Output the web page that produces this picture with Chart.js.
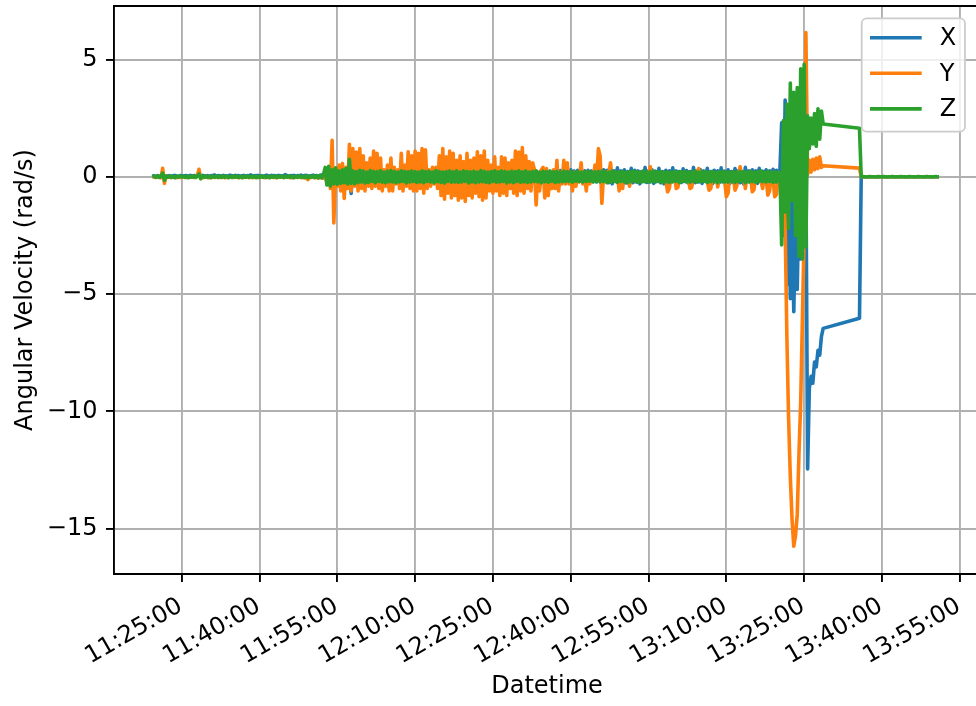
<!DOCTYPE html>
<html>
<head>
<meta charset="utf-8">
<title>Angular Velocity</title>
<script src="https://cdn.jsdelivr.net/npm/chart.js@4.4.1/dist/chart.umd.min.js"></script>
<style>
  html, body { margin: 0; padding: 0; background: #ffffff; overflow: hidden; }
  #wrap { position: relative; width: 980px; height: 706px; }
</style>
</head>
<body>
<div id="wrap"><canvas id="chart"></canvas></div>
<script>
// Gyroscope log: one sample every SAMPLE_SECONDS starting at START_TIME.
// null marks samples the logger did not record (the line is bridged straight across).
const START_TIME = '11:19:20';
const SAMPLE_SECONDS = 20;
const AXIS_MIN_TIME = '11:11:57';
const AXIS_MAX_TIME = '13:58:54';
const Y_MIN = -16.93;
const Y_MAX = 7.28;

const xTickLabels = ['11:25:00', '11:40:00', '11:55:00', '12:10:00', '12:25:00', '12:40:00',
                     '12:55:00', '13:10:00', '13:25:00', '13:40:00', '13:55:00'];
const yTickValues = [-15, -10, -5, 0, 5];

const seriesNames = ['X', 'Y', 'Z'];
const seriesColors = ['#1f77b4', '#ff7f0e', '#2ca02c'];

// angular velocity about X (rad/s)
const angX = [
  .02,.04,.01,.05,.03,.02,.06,.01,.04,.03,.05,.02,.04,.06,.03,.02,.05,.04,.03,.05,
  .04,.02,.06,.03,.05,.04,.02,.05,.03,.06,.04,.03,.05,.02,.04,.06,.08,.03,.05,.04,
  .03,.06,.04,.02,.05,.07,.04,.03,.06,.04,.05,.02,.04,.06,.03,.05,.04,.08,.03,.05,
  .04,.06,.03,.05,.02,.04,.07,.05,.03,.06,.04,.05,.03,.06,.04,.02,.05,.09,.04,.03,
  .05,.04,.06,.03,.05,.04,.07,.03,.05,.06,.04,.03,.05,.07,.04,.05,.03,.06,.08,.1,
  .2,-.25,.3,-.2,.25,-.3,.2,-.22,.18,-.2,.15,-.55,.2,-.18,.25,-.71,.2,-.2,.18,-.22,
  .2,-.18,.22,-.2,.17,-.21,.19,-.2,.22,-.18,.2,-.22,.18,-.2,.21,-.19,.2,-.21,.18,-.2,
  .19,-.22,.2,-.18,.22,-.2,.18,-.21,.2,-.19,.22,-.2,.18,-.22,.2,-.21,.19,-.2,.22,-.18,
  .2,-.21,.18,-.2,.22,-.19,.2,-.22,.18,-.2,.21,-.19,.2,-.22,.18,-.2,.22,-.21,.19,-.2,
  .21,-.2,.19,-.22,.2,-.18,.22,-.2,.19,-.21,.2,-.19,.22,-.2,.18,-.22,.2,-.19,.21,-.2,
  .2,-.22,.19,-.2,.21,-.18,.2,-.22,.19,-.2,.22,-.19,.2,-.21,.18,-.2,.22,-.2,.19,-.21,
  .2,-.19,.22,-.2,.18,-.22,.21,-.2,.19,-.2,.22,-.18,.2,-.21,.19,-.2,.27,-.22,.3,-.2,
  .26,-.22,.3,-.2,.25,-.24,.28,-.2,.3,-.22,.26,-.2,.28,-.23,.25,-.2,.3,-.22,.27,
  .25,-.22,.3,-.2,.28,-.25,.22,-.3,.26,-.2,.38,-.24,.25,-.22,.3,-.26,.22,-.2,.36,-.25,
  .28,-.22,.25,-.3,.22,-.2,.4,-.24,.26,-.22,.3,-.28,.24,-.2,.36,-.25,.22,-.3,.28,-.2,
  .26,-.24,.38,-.2,.25,-.3,.22,-.24,.34,-.2,.27,-.26,.22,-.2,.4,-.25,.24,-.22,.3,-.28,
  .25,-.2,.36,-.24,.22,-.3,.28,-.2,.26,-.25,.38,-.22,.24,-.2,.3,-.28,.22,-.24,.35,-.2,
  .27,-.25,.22,-.3,.4,-.2,.25,-.24,.3,-.22,.26,-.28,.36,-.2,.24,-.25,.3,-.22,.26,-.2,
  .32,-.24,.28,-.2,.3,
  2.3,-2.5,3.27,-4.6,.5,-5.2,-1,-5.75,-2,-4.8,-.5,-3.5,1,-3,.5,-12.45,
  -9,-8.5,-8.8,-7.9,-8.1,-7.4,-7.6,-6.8,-6.46,
  null,null,null,null,null,null,null,null,null,null,null,null,null,null,null,null,null,null,null,null,
  -6.03,
  0,0,0,0,0,0,0,0,0,0,0,0,0,0,0,0,0,0,0,0,0,0,0,
  0,0,0,0,0,0,0,0,0,0,0,0,0,0,0,0,0,0,0,0,0,0,0
];

// angular velocity about Y (rad/s)
const angY = [
  -.02,0,-.03,-.01,.02,-.04,.36,-.28,.03,-.02,-.01,-.03,0,-.02,-.04,-.01,-.03,0,-.02,-.01,
  -.03,-.01,-.02,0,-.03,-.02,.05,.32,-.08,-.02,-.03,-.01,-.02,-.04,0,-.02,-.03,-.01,-.02,-.03,
  -.01,-.02,-.04,-.01,-.03,0,-.02,-.03,-.01,-.02,-.04,-.02,0,-.03,-.01,-.02,-.03,-.01,-.04,-.02,
  -.01,-.03,-.02,0,-.02,-.04,-.01,-.03,-.02,-.01,-.03,-.02,-.04,-.01,-.02,0,-.03,-.02,-.01,-.03,
  -.02,-.04,-.01,-.02,-.03,0,-.02,-.04,-.03,-.06,-.12,-.02,-.03,-.01,-.04,-.02,-.05,-.03,-.02,-.06,
  .2,-.3,.4,-.5,1.56,-1.97,.3,-.4,.5,-.6,.57,-.92,.4,-.5,1.39,-.6,1.2,-.4,1.05,-.6,
  1.2,-.5,.9,-.6,.6,-.4,.8,-.5,1.1,-.4,1,-.5,.8,-.6,.3,-.4,.5,-.6,.8,-.6,
  .4,-.3,.3,-.5,1,-.6,.5,-.4,1.07,-.5,.9,-.6,1.1,-.6,1,-.5,1.2,-.7,1.15,-.5,
  .3,-.4,.4,-.3,.4,-.5,.9,-.8,1.2,-.95,.85,-.7,1.1,-.9,1,-.8,.7,-1,.9,-.9,
  .65,-1.05,1,-.8,.7,-.9,.8,-.7,1.07,-.85,.9,-1,1.1,-.9,.7,-.6,.5,-.7,.85,-.6,
  .4,-.8,.85,-.7,.8,-.8,.6,-.5,.7,-.7,1.1,-.8,1.05,-.6,1.25,-.7,.9,-.5,.65,-.6,
  .6,.3,-1.2,.2,-.6,.3,.4,-.9,.35,-.8,.2,-.5,.3,-.5,.7,-.6,.2,-.3,.7,-.3,
  .6,-.3,.1,-.6,.2,-.4,.1,-.2,.6,-.3,.1,-.6,.2,-.3,.1,-.2,.5,-.1,1.2,
  .9,-1.13,.1,-.2,.2,.1,.6,-.1,.1,-.2,.1,-.6,.05,-.5,.1,-.15,.1,-.4,.05,-.1,
  .1,-.15,.05,-.1,.1,-.12,.08,-.1,.1,.43,-.1,.05,-.12,.1,-.08,.05,-.15,.1,-.1,-.64,
  -.5,.05,-.1,.1,-.5,-.45,.1,-.1,.05,-.12,.1,-.08,-.5,-.45,.05,-.1,.1,.35,-.1,.05,
  -.12,.1,-.2,-.57,-.5,.05,-.1,.1,-.43,.05,-.1,.1,-.15,-.85,-.7,.05,-.1,.1,-.57,-.4,
  .1,.43,-.1,.05,-.5,.1,-.12,.05,-.64,-.55,.1,-.1,.05,-.15,-.5,.1,-.1,-.78,-.6,.05,
  -.1,-.85,-.75,.1,-.05,
  -.3,.2,-2,-6.8,-10.3,-12.8,-14.6,-15.75,-15.3,-14.4,-11.8,-9.6,-6,-2.5,6.15,.1,
  .7,.2,.75,.3,.8,.35,.85,.4,.47,
  null,null,null,null,null,null,null,null,null,null,null,null,null,null,null,null,null,null,null,null,
  .37,
  0,0,0,0,0,0,0,0,0,0,0,0,0,0,0,0,0,0,0,0,0,0,0,
  0,0,0,0,0,0,0,0,0,0,0,0,0,0,0,0,0,0,0,0,0,0,0
];

// angular velocity about Z (rad/s)
const angZ = [
  0,.03,-.02,.04,-.03,.02,.16,-.15,.03,-.02,.04,-.03,.02,-.04,.03,-.02,.04,-.01,.03,-.03,
  .02,-.04,.03,-.02,.04,-.03,.02,.12,-.08,.03,-.02,.04,-.03,.02,-.04,.03,-.02,.04,-.03,.02,
  -.03,.04,-.02,.03,-.04,.02,-.03,.04,-.02,.03,-.03,.02,-.04,.03,-.02,.04,-.03,.02,-.02,.03,
  -.04,.02,-.03,.04,-.02,.03,-.03,.02,-.04,.03,-.02,.04,-.03,.02,-.02,.04,-.03,.03,-.02,.04,
  -.03,.02,-.04,.03,-.02,.04,-.03,.02,-.03,.04,-.05,.03,-.02,.04,-.03,.05,-.04,.06,-.05,.1,
  .4,-.35,.45,-.4,.3,-.3,.38,-.32,.25,-.28,.3,-.25,.35,-.3,.75,-.28,.25,-.3,.22,-.25,
  .28,-.22,.25,-.26,.2,-.24,.27,-.2,.23,-.25,.22,-.2,.26,-.23,.2,-.25,.24,-.21,.27,-.22,
  .22,-.25,.2,-.22,.26,-.2,.23,-.26,.21,-.22,.25,-.2,.22,-.24,.2,-.22,.26,-.25,.22,-.2,
  .24,-.22,.2,-.25,.27,-.21,.23,-.24,.2,-.26,.22,-.2,.25,-.23,.21,-.22,.26,-.24,.2,-.22,
  .25,-.2,.23,-.26,.21,-.22,.24,-.25,.2,-.22,.27,-.21,.23,-.24,.2,-.25,.22,-.2,.26,-.23,
  .21,-.22,.25,-.2,.23,-.26,.2,-.22,.24,-.25,.22,-.2,.26,-.23,.21,-.22,.25,-.24,.2,-.22,
  .23,-.2,.26,-.22,.2,-.25,.24,-.21,.22,-.23,.25,-.2,.21,-.24,.23,-.22,.2,-.21,.24,-.2,
  .22,-.2,.21,-.23,.2,-.19,.23,-.21,.2,-.22,.21,-.2,.24,-.19,.2,-.22,.21,-.2,.23,
  -.22,.24,-.2,.22,-.25,.2,-.23,.25,-.2,.22,-.24,.21,-.2,.23,-.22,.2,-.25,.22,-.21,.24,
  -.2,.22,-.24,.2,-.22,.25,-.21,.2,-.23,.22,-.2,.24,-.22,.21,-.2,.23,-.25,.2,-.22,.21,
  -.24,.2,-.21,.23,-.2,.22,-.25,.21,-.2,.24,-.22,.2,-.23,.21,-.2,.25,-.22,.2,-.21,.23,
  -.2,.22,-.24,.2,-.21,.23,-.22,.2,-.25,.21,-.2,.24,-.22,.2,-.23,.21,-.2,.22,-.24,.2,
  -.21,.23,-.2,.22,-.25,.2,-.22,.24,-.21,.2,-.23,.22,-.2,.25,-.21,.2,-.22,.23,-.2,.21,
  -.24,.2,-.22,.2,.15,
  -2.9,2.4,-1.5,3.1,-2.2,4,-1,3.6,-2.5,3.8,-3.4,4.6,-3.5,4.8,-3,2.6,
  1.2,2.5,1.4,2.7,1.3,2.9,1.6,2.8,2.25,
  null,null,null,null,null,null,null,null,null,null,null,null,null,null,null,null,null,null,null,null,
  2.07,
  0,.01,0,-.01,0,.01,0,0,-.01,0,.01,0,0,.01,0,-.01,0,0,.01,0,-.01,0,0,
  .01,0,0,-.01,0,.01,0,0,-.01,0,.01,0,0,-.01,0,.01,0,0,-.01,0,.01,0,0
];

function toSeconds(hms) {
  const [h, m, s] = hms.split(':').map(Number);
  return h * 3600 + m * 60 + s;
}
function toClock(sec) {
  const h = Math.floor(sec / 3600), m = Math.floor((sec % 3600) / 60), s = Math.round(sec % 60);
  return [h, m, s].map(n => String(n).padStart(2, '0')).join(':');
}
const t0 = toSeconds(START_TIME);
function toPoints(values) {
  return values.map((v, i) => ({ x: t0 + i * SAMPLE_SECONDS, y: v }));
}
function minusSign(v) {
  return v < 0 ? '\u2212' + Math.abs(v) : String(v);
}

const FONT = "'DejaVu Sans', 'Liberation Sans', sans-serif";
const FS = 24;
const LINE_W = 3.6;
const GRID_W = 1.9;

Chart.defaults.font.family = FONT;
Chart.defaults.font.size = FS;
Chart.defaults.color = '#000000';

// closes the box on the top and right sides
const axesFrame = {
  id: 'axesFrame',
  afterDatasetsDraw(chart) {
    const { ctx, chartArea: a } = chart;
    ctx.save();
    ctx.strokeStyle = '#000000';
    ctx.lineWidth = GRID_W;
    ctx.beginPath();
    ctx.moveTo(a.left, a.top);
    ctx.lineTo(a.right, a.top);
    ctx.lineTo(a.right, a.bottom);
    ctx.stroke();
    ctx.restore();
  }
};

// legend box in the upper right corner of the plot area
const insideLegend = {
  id: 'insideLegend',
  afterDraw(chart) {
    const { ctx, chartArea: a } = chart;
    const w = 103.3, h = 113.4, r = 5;
    const right = a.right - 15, top = a.top + 12.3, left = right - w;
    ctx.save();
    ctx.beginPath();
    ctx.roundRect(left, top, w, h, r);
    ctx.fillStyle = 'rgba(255,255,255,0.8)';
    ctx.fill();
    ctx.strokeStyle = '#cccccc';
    ctx.lineWidth = 1.8;
    ctx.stroke();
    chart.data.datasets.forEach((ds, k) => {
      const y = top + 19.4 + k * 35.6;
      ctx.beginPath();
      ctx.moveTo(left + 8.3, y);
      ctx.lineTo(left + 60, y);
      ctx.strokeStyle = ds.borderColor;
      ctx.lineWidth = LINE_W;
      ctx.stroke();
      ctx.fillStyle = '#000000';
      ctx.font = FS + 'px ' + FONT;
      ctx.textAlign = 'left';
      ctx.textBaseline = 'middle';
      ctx.fillText(ds.label, left + 78, y + 1);
    });
    ctx.restore();
  }
};

const seriesValues = [angX, angY, angZ];

new Chart(document.getElementById('chart'), {
  type: 'line',
  data: {
    datasets: seriesNames.map((name, k) => ({
      label: name,
      data: toPoints(seriesValues[k]),
      borderColor: seriesColors[k],
      backgroundColor: seriesColors[k],
      borderWidth: LINE_W,
      borderJoinStyle: 'round',
      pointRadius: 0,
      tension: 0,
      spanGaps: true,
      fill: false,
      order: seriesNames.length - k
    }))
  },
  options: {
    responsive: true,
    maintainAspectRatio: false,
    animation: false,
    events: [],
    devicePixelRatio: 1,
    parsing: false,
    normalized: true,
    layout: { padding: { top: 6, left: 0, right: 0, bottom: 0 }, autoPadding: false },
    plugins: { legend: { display: false }, tooltip: { enabled: false } },
    scales: {
      x: {
        type: 'linear',
        min: toSeconds(AXIS_MIN_TIME),
        max: toSeconds(AXIS_MAX_TIME),
        afterBuildTicks: scale => { scale.ticks = xTickLabels.map(l => ({ value: toSeconds(l) })); },
        afterFit: scale => {
          scale.height = 132;
          scale.paddingLeft = 0;
          scale.paddingRight = 0;
        },
        ticks: {
          autoSkip: false, minRotation: 30, maxRotation: 30, padding: 10, labelOffset: -1,
          color: '#000000', font: { size: FS },
          callback: v => toClock(v)
        },
        grid: { color: '#b0b0b0', lineWidth: GRID_W, tickLength: 8, tickColor: '#000000', tickWidth: GRID_W },
        border: { color: '#000000', width: GRID_W },
        title: { display: true, text: 'Datetime', color: '#000000', font: { size: FS }, padding: { top: 0, bottom: 4.6 } }
      },
      y: {
        type: 'linear',
        min: Y_MIN,
        max: Y_MAX,
        afterBuildTicks: scale => { scale.ticks = yTickValues.map(v => ({ value: v })); },
        afterFit: scale => {
          scale.width = 114;
          scale.paddingTop = 0;
          scale.paddingBottom = 0;
        },
        ticks: { padding: 8.5, color: '#000000', font: { size: FS }, callback: v => minusSign(v) },
        grid: { color: '#b0b0b0', lineWidth: GRID_W, tickLength: 8, tickColor: '#000000', tickWidth: GRID_W },
        border: { color: '#000000', width: GRID_W },
        title: { display: true, text: 'Angular Velocity (rad/s)', color: '#000000', font: { size: FS }, padding: { top: 11, bottom: 0 } }
      }
    }
  },
  plugins: [axesFrame, insideLegend]
});
</script>
</body>
</html>
